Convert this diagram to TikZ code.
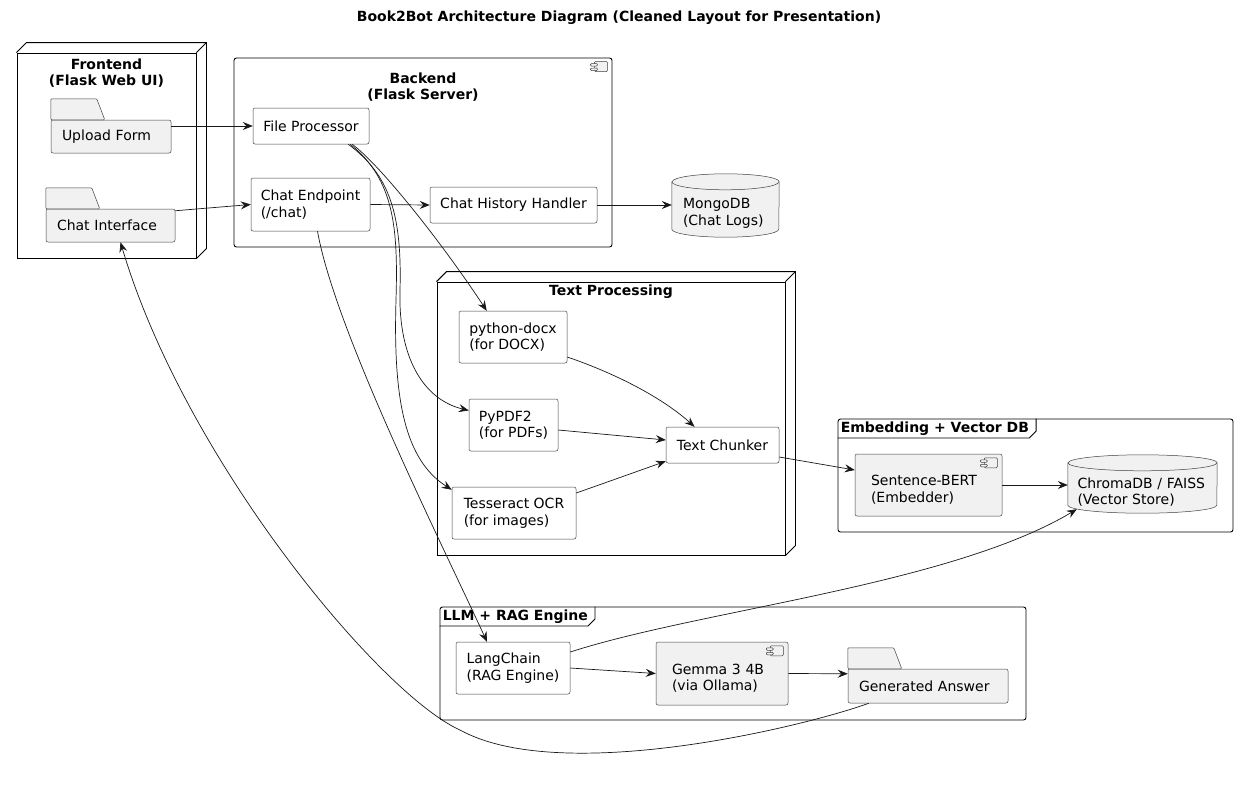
\documentclass[tikz,border=0pt]{standalone}
\usepackage{fontspec}
\setmainfont{DejaVu Sans}
\usetikzlibrary{arrows.meta,backgrounds}

\definecolor{boxgray}{HTML}{F1F1F1}
\definecolor{linegray}{HTML}{181818}

% 3d look of a deployment node
\newcommand{\nodedepth}[1]{%
  \draw[container] (#1.north west) -- ++(10,-10) -- ([shift={(10,-10)}]#1.north east)
    -- ([shift={(10,-10)}]#1.south east) -- (#1.south east);
  \draw[container] (#1.north east) -- ++(10,-10);
}
% tab on top of a folder
\newcommand{\foldertab}[1]{%
  \draw[iconline] (#1.north west) -- ++(0,-21) -- ++(46,0) -- ++(8,21) -- cycle;
}
% small component symbol in the upper right corner
\newcommand{\compicon}[1]{%
  \draw[iconline] ([shift={(-18,4)}]#1.north east) rectangle ++(13,10);
  \draw[iconline] ([shift={(-22,6)}]#1.north east) rectangle ++(7,2.5);
  \draw[iconline] ([shift={(-22,10.5)}]#1.north east) rectangle ++(7,2.5);
}
% database drum behind a node, #2 = half width
\newcommand{\dbdrum}[2]{%
  \begin{pgfonlayer}{background}
  \filldraw[dbline] ([shift={(0,-8)}]#1.north west) -- ([shift={(0,-8)}]#1.south west)
    arc[start angle=180,end angle=360,x radius=#2pt,y radius=8pt]
    -- ([shift={(0,-8)}]#1.north east)
    arc[start angle=0,end angle=180,x radius=#2pt,y radius=8pt] -- cycle;
  \draw[dbline,fill=none] ([shift={(0,-8)}]#1.north west)
    arc[start angle=180,end angle=360,x radius=#2pt,y radius=8pt];
  \end{pgfonlayer}
}

\begin{document}
\begin{tikzpicture}[x=1pt,y=-1pt,font=\fontsize{14pt}{16.5pt}\selectfont,
  >={Stealth[length=10pt,width=8pt,inset=3.5pt]}]
\tikzstyle{container}=[draw=black,line width=0.9pt,inner sep=0pt]
\tikzstyle{group}=[container,rounded corners=2.5pt]
\tikzstyle{heading}=[font=\fontsize{14pt}{16.5pt}\selectfont\bfseries,align=center,inner sep=0pt]
\tikzstyle{tabtext}=[heading,inner xsep=3pt,minimum height=19pt,anchor=north west]
\tikzstyle{box}=[draw=black!75,line width=0.5pt,rounded corners=2pt,fill=white,align=left,inner sep=0pt]
\tikzstyle{folder}=[box,fill=boxgray,inner xsep=11pt]
\tikzstyle{comp}=[box,fill=boxgray,inner xsep=16pt,text height=20pt]
\tikzstyle{db}=[inner xsep=11pt,inner ysep=0pt,align=left]
\tikzstyle{dbline}=[draw=black!75,line width=0.5pt,fill=boxgray]
\tikzstyle{iconline}=[draw=black!75,line width=0.5pt,fill=boxgray,rounded corners=1pt]
\tikzstyle{flow}=[->,draw=linegray,line width=0.7pt]

\useasboundingbox (0,0) rectangle (1238,801);

\node[heading] (title) at (619,18) {Book2Bot Architecture Diagram (Cleaned Layout for Presentation)};

% containers
\node[container,minimum width=179pt,minimum height=205pt] (frontend) at (106.5,155.5) {};
\nodedepth{frontend}
\node[heading] (frontendT) at (106.5,73) {Frontend\\(Flask Web UI)};

\node[group,minimum width=378pt,minimum height=189pt] (backend) at (423,152.5) {};
\compicon{backend}
\node[heading] (backendT) at (423,87) {Backend\\(Flask Server)};

\node[container,minimum width=348pt,minimum height=273pt] (textproc) at (611,418.5) {};
\nodedepth{textproc}
\node[heading] (textprocT) at (611,292) {Text Processing};

\node[group,minimum width=395pt,minimum height=113pt] (embed) at (1035.5,475.5) {};
\node[tabtext] (embedT) at (embed.north west) {Embedding + Vector DB};
\draw[container] (embedT.south west) -- ([shift={(-3,0)}]embedT.south east)
  -- ([shift={(4,-7)}]embedT.south east) -- ([shift={(4,0)}]embedT.north east);

\node[group,minimum width=586pt,minimum height=113pt] (llm) at (733,663.5) {};
\node[tabtext] (llmT) at (llm.north west) {LLM + RAG Engine};
\draw[container] (llmT.south west) -- ([shift={(-3,0)}]llmT.south east)
  -- ([shift={(4,-7)}]llmT.south east) -- ([shift={(4,0)}]llmT.north east);

% frontend
\node[folder,text width=98pt,minimum height=33pt] (upload) at (111,136.5) {Upload Form};
\foldertab{upload}
\node[folder,text width=107pt,minimum height=33pt] (chatif) at (110.5,225.5) {Chat Interface};
\foldertab{chatif}

% backend
\node[box,minimum width=116pt,minimum height=36pt] (fileproc) at (311,126) {File Processor};
\node[box,minimum width=119pt,minimum height=53pt] (chatep) at (310.5,204.5) {Chat Endpoint\\(/chat)};
\node[box,minimum width=167pt,minimum height=36pt] (history) at (513.5,205) {Chat History Handler};

\node[db,text width=85pt,minimum height=47pt] (mongo) at (725.5,213.5) {MongoDB\\(Chat Logs)};
\dbdrum{mongo}{53.5}

% text processing
\node[box,minimum width=108pt,minimum height=52pt] (docx) at (513,337) {python-docx\\(for DOCX)};
\node[box,minimum width=89pt,minimum height=52pt] (pypdf) at (513.5,425) {PyPDF2\\(for PDFs)};
\node[box,minimum width=124pt,minimum height=52pt] (ocr) at (514,513) {Tesseract OCR\\(for images)};
\node[box,minimum width=113pt,minimum height=36pt] (chunker) at (722.5,445) {Text Chunker};

% embedding
\node[comp,text width=115pt,minimum height=62pt] (sbert) at (928.5,485) {Sentence-BERT\\(Embedder)};
\compicon{sbert}
\node[db,inner xsep=9.5pt,text width=130pt,minimum height=42pt] (chroma) at (1142.5,492) {ChromaDB / FAISS\\(Vector Store)};
\dbdrum{chroma}{74.5}

% llm
\node[box,minimum width=114pt,minimum height=52pt] (langchain) at (513,668) {LangChain\\(RAG Engine)};
\node[comp,text width=100pt,minimum height=63pt] (gemma) at (722,673.5) {Gemma 3 4B\\(via Ollama)};
\compicon{gemma}
\node[folder,text width=138pt,minimum height=34pt] (genans) at (928,686) {Generated Answer};
\foldertab{genans}

% connections
\draw[flow] (upload.east |- fileproc.west) -- (fileproc.west);
\draw[flow] ([shift={(0,2)}]chatif.north east) -- (chatep.west);
\draw[flow] (chatep.east) -- (history.west);
\draw[flow] (history.east) -- (mongo.west |- history.east);
\draw[flow] ([shift={(-17,0)}]fileproc.south east) .. controls (380,165) and (440,240) .. (docx.135);
\draw[flow] ([shift={(-21,0)}]fileproc.south east) .. controls (390,175) and (402,215) .. (400,290)
  .. controls (398,360) and (425,400) .. (pypdf.162);
\draw[flow] ([shift={(-19,0)}]fileproc.south east) .. controls (395,180) and (398,230) .. (396,300)
  .. controls (393,400) and (405,460) .. ([shift={(0,3)}]ocr.north west);
\draw[flow] ([shift={(0,20)}]docx.east) .. controls (620,375) and (665,400) .. ([shift={(-28,0)}]chunker.north);
\draw[flow] ([shift={(0,5)}]pypdf.east) -- ([shift={(0,-5)}]chunker.west);
\draw[flow] ([shift={(0,-20)}]ocr.east) -- ([shift={(0,-2)}]chunker.south west);
\draw[flow] ([shift={(0,12)}]chunker.east) -- ([shift={(0,-15)}]sbert.west);
\draw[flow] (sbert.east) -- (chroma.west |- sbert.east);
\draw[flow] ([shift={(7,0)}]chatep.south) .. controls (335,330) and (440,540) .. ([shift={(-26,0)}]langchain.north);
\draw[flow] ([shift={(0,-16)}]langchain.east) .. controls (700,610) and (950,585) .. ([shift={(9,-4)}]chroma.south west);
\draw[flow] (langchain.east) -- (gemma.west);
\draw[flow] (gemma.east) -- ([shift={(0,5)}]genans.north west);
\draw[flow] ([shift={(21,0)}]genans.south west) .. controls (800,728) and (560,785) .. (460,730)
  .. controls (380,694) and (185,460) .. ([shift={(10,0)}]chatif.south);
\end{tikzpicture}
\end{document}
